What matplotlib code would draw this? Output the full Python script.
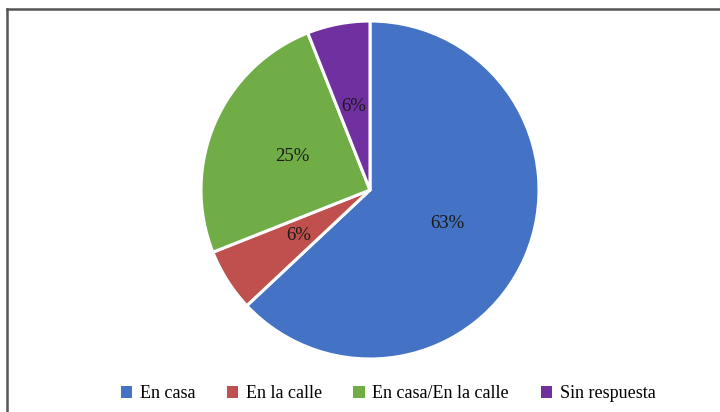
import matplotlib
matplotlib.use("Agg")
import matplotlib.pyplot as plt
from matplotlib.lines import Line2D
from matplotlib.patches import Patch

categories = ["En casa", "En la calle", "En casa/En la calle", "Sin respuesta"]
values = [63, 6, 25, 6]
labels = ["63%", "6%", "25%", "6%"]
colors = ["#4472C4", "#C0504D", "#70AD47", "#7030A0"]

W, H = 720, 412
fig = plt.figure(figsize=(W / 100, H / 100), dpi=100)
fig.patch.set_facecolor("white")

cx, cy, r = 370, 190, 169
ax = fig.add_axes([(cx - r) / W, (H - cy - r) / H, 2 * r / W, 2 * r / H])
wedges, texts, autotexts = ax.pie(
    values, colors=colors, startangle=90, counterclock=False,
    autopct=lambda p: "", pctdistance=0.5,
    wedgeprops=dict(edgecolor="white", linewidth=2.2),
)
for w in wedges:
    w.set_clip_on(False)
for t, lab in zip(autotexts, labels):
    t.set_text(lab)
    t.set_fontfamily("Liberation Serif")
    t.set_fontsize(13.5)
    t.set_color("#1a1a1a")
ax.set_xlim(-1, 1)
ax.set_ylim(-1, 1)
ax.set_aspect("auto")
ax.axis("off")

# border lines (top and left)
fig.add_artist(Line2D([7 / W, 1.01], [1 - 9 / H, 1 - 9 / H], transform=fig.transFigure,
                      color="#555555", linewidth=1.8))
fig.add_artist(Line2D([7 / W, 7 / W], [1 - 9 / H, -0.01], transform=fig.transFigure,
                      color="#555555", linewidth=1.8))

handles = [Patch(facecolor=c, edgecolor="none") for c in colors]
leg = fig.legend(handles, categories, loc="center", bbox_to_anchor=(388 / W, 1 - 394 / H),
                 ncol=4, frameon=False, prop=dict(family="Liberation Serif", size=13),
                 handlelength=0.65, handleheight=0.65, handletextpad=0.4, columnspacing=1.75)

fig.savefig("out.png", dpi=100, facecolor="white")
